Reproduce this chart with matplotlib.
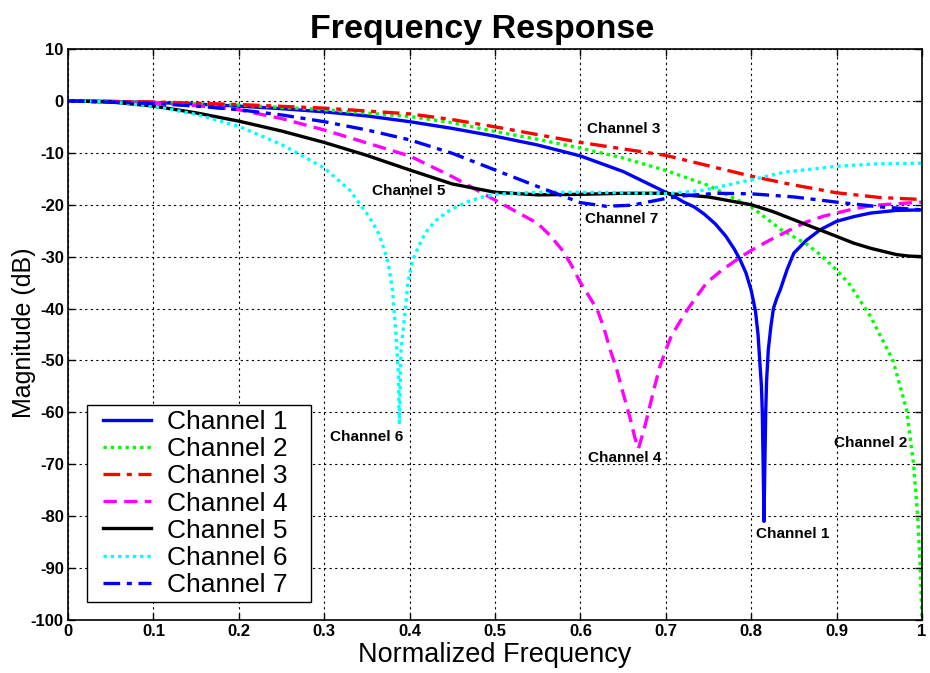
import matplotlib
matplotlib.use('Agg')
import matplotlib.pyplot as plt
from matplotlib.patches import Rectangle

plt.rcParams['font.family'] = ['Liberation Sans', 'DejaVu Sans']
plt.rcParams['axes.unicode_minus'] = False

# Channel 1 - blue solid
ch1_x = [0, 0.05, 0.1, 0.15, 0.2, 0.25, 0.3, 0.35, 0.4, 0.45, 0.5, 0.55, 0.6, 0.65, 0.7,
         0.71, 0.72, 0.733, 0.745, 0.758, 0.77, 0.78, 0.787, 0.794, 0.80, 0.805, 0.808, 0.81,
         0.812, 0.813, 0.814, 0.815, 0.816, 0.817, 0.818, 0.82, 0.823, 0.826, 0.83, 0.834,
         0.842, 0.85, 0.865, 0.881, 0.9, 0.92, 0.94, 0.97, 1.0]
ch1_y = [0, -0.1, -0.3, -0.6, -1.0, -1.5, -2.1, -2.9, -4.0, -5.3, -6.8, -8.5, -10.6, -13.6, -17.6,
         -18.4, -19.4, -20.4, -21.8, -23.7, -26.0, -28.5, -30.6, -33.2, -36.5, -40.5, -45, -50,
         -55, -60, -70, -81, -70, -60, -54, -48, -43.5, -40, -38, -36.4,
         -32.5, -29.3, -26.8, -24.8, -23.2, -22.3, -21.6, -21.1, -21.0]

# Channel 2 - green dotted
ch2_x = [0, 0.1, 0.2, 0.3, 0.4, 0.45, 0.5, 0.55, 0.6, 0.65, 0.7, 0.75, 0.8, 0.835, 0.865,
         0.88, 0.9, 0.915, 0.94, 0.966, 0.982, 0.99, 0.995, 0.998, 1.0]
ch2_y = [0, -0.3, -0.8, -1.7, -3.0, -4.2, -5.9, -7.4, -9.1, -11.0, -13.4, -16.3, -20.4, -24.8, -27.6,
         -29.5, -32.6, -35.3, -41.6, -50, -59.5, -69.8, -80, -90, -100]

# Channel 3 - red dash-dot
ch3_x = [0, 0.1, 0.2, 0.3, 0.4, 0.45, 0.5, 0.6, 0.7, 0.8, 0.85, 0.9, 0.95, 1.0]
ch3_y = [0, -0.2, -0.7, -1.4, -2.5, -3.6, -5.0, -8.0, -10.5, -14.5, -16.2, -17.7, -18.6, -19.0]

# Channel 4 - magenta dashed
ch4_x = [0, 0.1, 0.15, 0.2, 0.25, 0.3, 0.35, 0.4, 0.45, 0.5, 0.55, 0.565, 0.58, 0.59, 0.6,
         0.61, 0.62, 0.628, 0.635, 0.643, 0.65, 0.658, 0.664, 0.668, 0.675, 0.681, 0.687,
         0.693, 0.70, 0.706, 0.713, 0.725, 0.737, 0.748, 0.765, 0.783, 0.80, 0.822, 0.845,
         0.865, 0.885, 0.9, 0.92, 0.94, 0.97, 1.0]
ch4_y = [0, -0.4, -0.9, -1.7, -3.4, -5.6, -8.1, -10.6, -14.6, -19.1, -23.6, -26, -29, -31.8, -35,
         -37.6, -40.3, -44, -48, -52, -56.3, -61, -65, -67, -63, -59, -55,
         -51.2, -48, -45.5, -43.5, -40.3, -37.5, -35, -32.7, -30.6, -28.8, -26.8, -24.9,
         -23.3, -22.2, -21.6, -20.8, -20.2, -19.8, -19.5]

# Channel 5 - black solid
ch5_x = [0, 0.05, 0.1, 0.15, 0.2, 0.25, 0.3, 0.35, 0.4, 0.45, 0.5, 0.55, 0.6, 0.65, 0.7,
         0.75, 0.8, 0.825, 0.85, 0.875, 0.9, 0.92, 0.94, 0.97, 0.985, 1.0]
ch5_y = [0, -0.2, -1.0, -2.3, -3.9, -5.8, -8.0, -10.5, -13.3, -16.0, -17.6, -18.1, -18.0, -17.8, -17.8,
         -18.5, -20.0, -21.3, -22.9, -24.5, -26.1, -27.4, -28.4, -29.6, -29.9, -30.0]

# Channel 6 - cyan dotted
ch6_x = [0, 0.05, 0.1, 0.15, 0.2, 0.25, 0.3, 0.33, 0.35, 0.358, 0.365, 0.37, 0.375, 0.38,
         0.384, 0.387, 0.388, 0.39, 0.395, 0.398, 0.404, 0.41, 0.415, 0.422, 0.432, 0.443,
         0.455, 0.47, 0.486, 0.5, 0.55, 0.6, 0.65, 0.7, 0.745, 0.8, 0.84, 0.9, 0.95, 1.0]
ch6_y = [0, -0.2, -1.0, -2.6, -4.9, -8.4, -12.9, -17.2, -21.7, -23.8, -26, -28.5, -31.3, -36.4,
         -44.7, -53, -62, -48, -40.3, -35, -30.5, -28.3, -26.5, -24.6, -22.9, -21.5,
         -20.4, -19.3, -18.5, -18.0, -17.6, -17.6, -17.7, -17.9, -17.2, -15.2, -13.7, -12.6, -12.1, -12.0]

# Channel 7 - blue dash-dot
ch7_x = [0, 0.1, 0.15, 0.2, 0.25, 0.3, 0.35, 0.4, 0.45, 0.5, 0.55, 0.6, 0.63, 0.66, 0.7,
         0.72, 0.76, 0.8, 0.85, 0.9, 0.95, 1.0]
ch7_y = [0, -0.5, -1.0, -1.7, -2.7, -4.0, -5.6, -7.5, -10.1, -13.3, -16.5, -19.6, -20.3, -20.1, -18.8,
         -18.3, -17.8, -17.9, -18.5, -19.5, -20.4, -21.0]

labels = ['Channel 1', 'Channel 2', 'Channel 3', 'Channel 4', 'Channel 5', 'Channel 6', 'Channel 7']

# text annotations (x, y, label)
notes = [(0.608, -5.5, 'Channel 3'), (0.356, -17.3, 'Channel 5'), (0.605, -22.7, 'Channel 7'),
         (0.307, -64.7, 'Channel 6'), (0.609, -68.8, 'Channel 4'), (0.806, -83.4, 'Channel 1'),
         (0.897, -66.0, 'Channel 2')]

fig = plt.figure(figsize=(9.3, 6.73), dpi=100)
ax = fig.add_axes([0.0731, 0.0788, 0.9183, 0.8484])

lw = 2.4
ax.plot(ch1_x, ch1_y, color='#0000FF', ls='-', lw=lw, label=labels[0])
ax.plot(ch2_x, ch2_y, color='#00FF00', ls=(0, (1, 1.2)), lw=lw, label=labels[1])
ax.plot(ch3_x, ch3_y, color='#FF0000', ls=(0, (5, 2, 1.5, 2)), lw=lw, label=labels[2])
ax.plot(ch4_x, ch4_y, color='#FF00FF', ls=(0, (4, 2.2)), lw=lw, label=labels[3])
ax.plot(ch5_x, ch5_y, color='black', ls='-', lw=lw, label=labels[4])
ax.plot(ch6_x, ch6_y, color='#00FFFF', ls=(0, (1, 1.2)), lw=lw, label=labels[5])
ax.plot(ch7_x, ch7_y, color='#0000FF', ls=(0, (5, 2, 1.5, 2)), lw=lw, label=labels[6])

for x, y, t in notes:
    ax.text(x, y, t, fontsize=11, fontweight='bold', ha='left', va='center')

ax.set_xlim(0, 1)
ax.set_ylim(-100, 10)
ax.set_xticks([i / 10 for i in range(11)])
ax.set_xticklabels(['0', '0.1', '0.2', '0.3', '0.4', '0.5', '0.6', '0.7', '0.8', '0.9', '1'])
ax.set_yticks(range(-100, 11, 10))
ax.tick_params(direction='in', top=True, right=True, labelsize=12, length=5, width=1, pad=3)
for lab in ax.get_xticklabels() + ax.get_yticklabels():
    lab.set_fontweight('bold')
ax.grid(True, color='black', ls=(0, (2, 3)), lw=0.8)
for s in ax.spines.values():
    s.set_linewidth(1.2)

ax.set_xlabel('Normalized Frequency', fontsize=19.5, labelpad=2)
ax.set_ylabel('Magnitude (dB)', fontsize=18)
ax.yaxis.set_label_coords(-0.037, 0.503)
ax.set_title('Frequency Response', fontsize=24.5, fontweight='bold', x=0.485, pad=8)

# legend box drawn separately (wider side padding than the legend's own frame)
ax.add_patch(Rectangle((0.022, 0.0315), 0.2625, 0.345, transform=ax.transAxes,
                       facecolor='white', edgecolor='black', lw=1.0, zorder=4.9))
leg = ax.legend(loc='lower left', bbox_to_anchor=(0.0305, 0.024), fontsize=19,
                frameon=False, borderaxespad=0,
                handlelength=1.8, handletextpad=0.6, labelspacing=0.12, borderpad=0.35)

fig.savefig('out.png', dpi=100)
